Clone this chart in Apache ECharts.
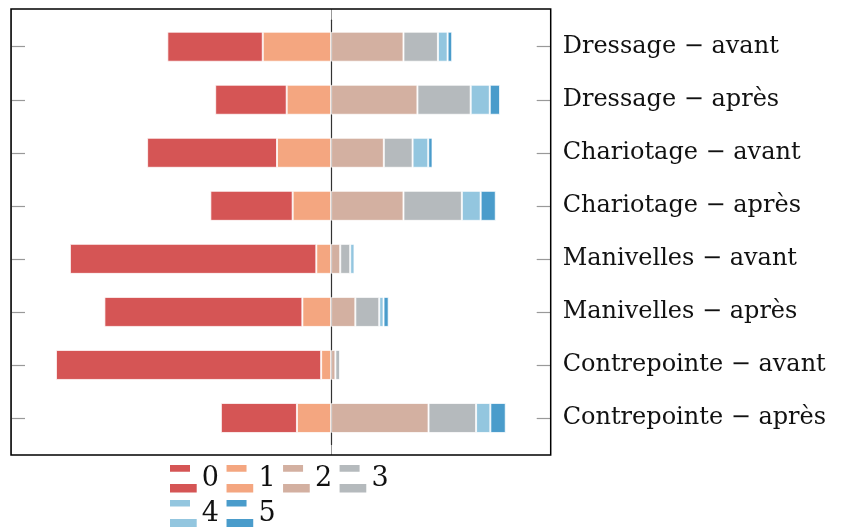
<!DOCTYPE html>
<html>
<head>
<meta charset="utf-8">
<script src="https://cdn.jsdelivr.net/npm/echarts@6/dist/echarts.min.js"></script>
<style>
  html, body { margin: 0; padding: 0; background: #fff; }
  #chart { width: 842px; height: 527px; }
</style>
</head>
<body>
<div id="chart"></div>
<script>
// categories, top to bottom
var categories = [
  'Dressage − avant', 'Dressage − après',
  'Chariotage − avant', 'Chariotage − après',
  'Manivelles − avant', 'Manivelles − après',
  'Contrepointe − avant', 'Contrepointe − après'
]
// share of answers (%) per score
var score0 = [33.5, 25.1, 45.6, 28.9, 86.5, 69.5, 93.1, 26.7]
var score1 = [24.0, 15.6, 19.0, 13.5, 5.2, 10.1, 3.5, 12.0]
var score2 = [25.4, 30.3, 18.5, 25.4, 3.2, 8.5, 1.5, 34.2]
var score3 = [12.1, 18.7, 10.1, 20.5, 3.5, 8.4, 1.7, 16.7]
var score4 = [3.4, 6.7, 5.5, 6.6, 1.5, 1.5, 0, 5.0]
var score5 = [1.6, 3.6, 1.5, 5.3, 0, 1.8, 0, 5.4]
var legendNames = ['0', '1', '2', '3', '4', '5']
var colors = ['#d55555', '#f4a680', '#d3b0a1', '#b5babd', '#93c6df', '#4a9ccb']

// axis range: data extent enlarged by 10% on each side
var leftMax = 0
var rightMax = 0
for (var i = 0; i < categories.length; i++) {
  leftMax = Math.max(leftMax, score0[i] + score1[i])
  rightMax = Math.max(rightMax, score2[i] + score3[i] + score4[i] + score5[i])
}
var pad = 0.1 * (leftMax + rightMax)
var xMin = -(leftMax + pad)
var xMax = rightMax + pad

function neg (arr) {
  return arr.map(function (v) { return -v })
}

function barSeries (name, data, color) {
  return {
    name: name,
    type: 'bar',
    stack: 'all',
    xAxisIndex: 1,
    yAxisIndex: 1,
    barWidth: 30,
    itemStyle: {
      color: color,
      borderColor: 'rgba(255,255,255,0.75)',
      borderWidth: 1
    },
    data: data
  }
}

var oChart = echarts.init(document.getElementById('chart'))
var chartopt = {
  animation: false,
  legend: {
    data: legendNames,
    left: 165,
    top: 460,
    width: 240,
    itemWidth: 27,
    itemHeight: 27.4,
    itemGap: 7.5,
    icon: 'path://M0,0H20V6.7H0Z M0,19H26.7V27.4H0Z',
    itemStyle: { borderWidth: 0 },
    textStyle: {
      fontFamily: 'DejaVu Serif',
      fontSize: 27,
      color: '#111'
    }
  },
  grid: [
    // frame
    { left: 11, right: 291.3, top: 9, bottom: 72, show: true, borderColor: '#000', borderWidth: 1.5, z: 3 },
    // data
    { left: 11, right: 291.3, top: 20.2, bottom: 82.5 }
  ],
  xAxis: [
    {
      gridIndex: 0,
      type: 'value',
      min: xMin,
      max: xMax,
      interval: -xMin,
      axisLine: { show: false },
      axisTick: { show: false },
      axisLabel: { show: false },
      splitLine: { show: true, lineStyle: { color: '#999', width: 1 } }
    },
    {
      gridIndex: 1,
      type: 'value',
      min: xMin,
      max: xMax,
      axisLine: { show: false },
      axisTick: { show: false },
      axisLabel: { show: false },
      splitLine: { show: false }
    }
  ],
  yAxis: [
    { gridIndex: 0, type: 'value', show: false },
    {
      gridIndex: 1,
      type: 'category',
      inverse: true,
      data: categories,
      position: 'left',
      axisLine: { show: false, onZero: false },
      axisTick: { show: true, inside: true, length: 14, alignWithLabel: true, lineStyle: { color: '#999', width: 1.2 } },
      axisLabel: { show: false }
    },
    {
      gridIndex: 1,
      type: 'category',
      inverse: true,
      data: categories,
      position: 'right',
      axisLine: { show: false, onZero: false },
      axisTick: { show: true, inside: true, length: 14, alignWithLabel: true, lineStyle: { color: '#999', width: 1.2 } },
      axisLabel: {
        margin: 12,
        fontFamily: 'DejaVu Serif',
        fontSize: 24,
        color: '#111'
      }
    },
    {
      // centre line at zero
      gridIndex: 1,
      type: 'category',
      inverse: true,
      data: categories,
      position: 'left',
      axisLine: { show: true, onZero: true, lineStyle: { color: '#333', width: 1.2 } },
      axisTick: { show: false },
      axisLabel: { show: false }
    }
  ],
  series: [
    barSeries('1', neg(score1), colors[1]),
    barSeries('0', neg(score0), colors[0]),
    barSeries('2', score2, colors[2]),
    barSeries('3', score3, colors[3]),
    barSeries('4', score4, colors[4]),
    barSeries('5', score5, colors[5])
  ]
}
oChart.setOption(chartopt)
</script>
</body>
</html>
